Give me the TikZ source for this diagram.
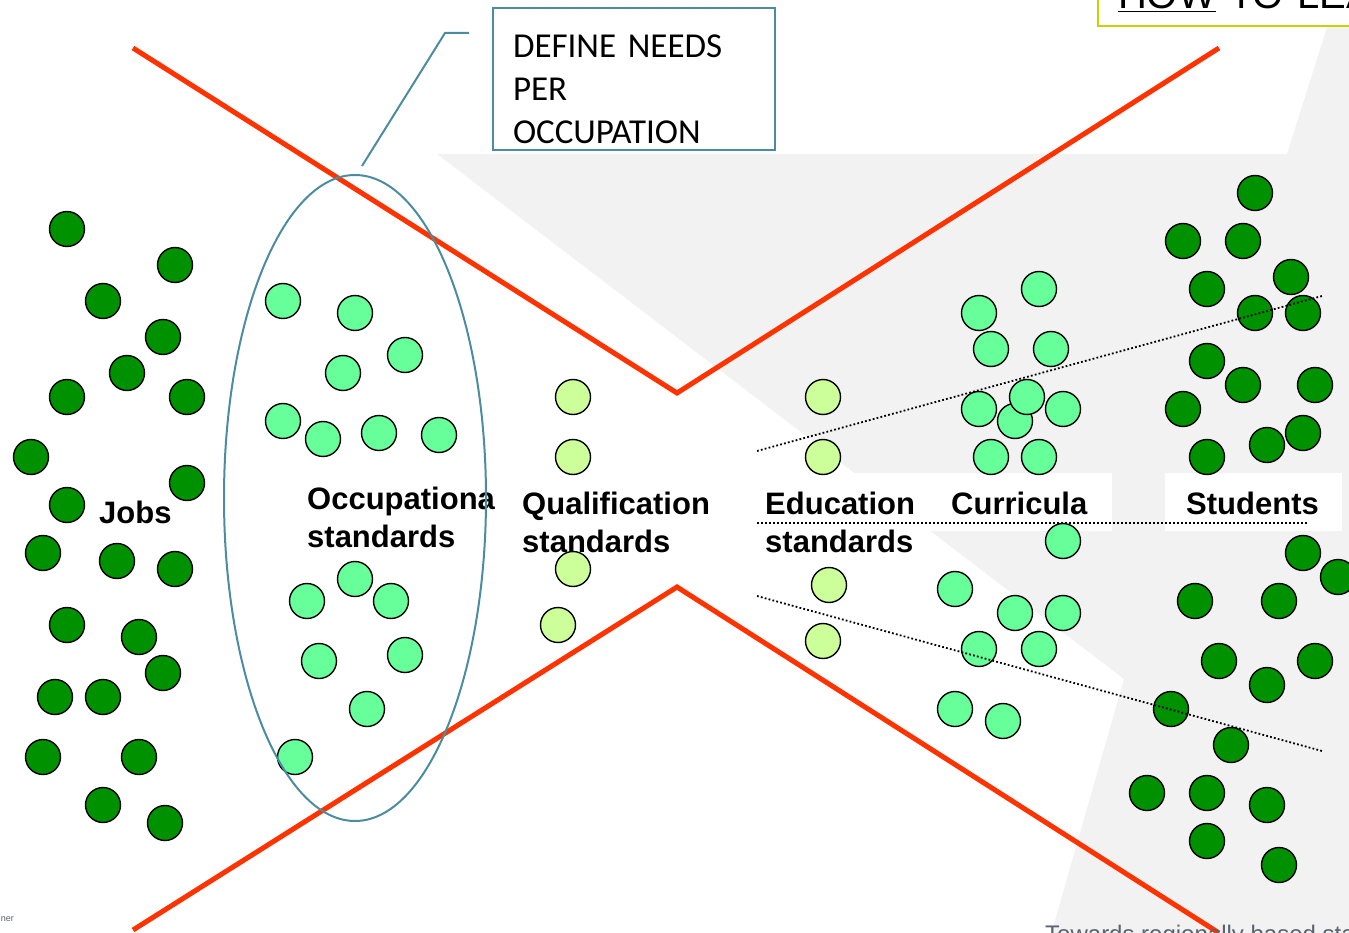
\documentclass[tikz,border=0pt]{standalone}
\usepackage{fontspec}
\setmainfont{Liberation Sans}
\newfontfamily\calfont{Carlito}
\usetikzlibrary{shapes.geometric}

\definecolor{jobgreen}{RGB}{0,145,0}
\definecolor{stdgreen}{RGB}{102,255,153}
\definecolor{qualgreen}{RGB}{204,255,153}
\definecolor{crossred}{RGB}{255,51,0}
\definecolor{calloutblue}{RGB}{75,140,160}
\definecolor{shadegray}{RGB}{242,242,242}
\definecolor{titlelime}{RGB}{200,210,0}
\definecolor{footgray}{RGB}{90,98,110}

\tikzset{
  blob/.style={circle, draw=black, line width=1.4pt, minimum size=35pt, inner sep=0pt},
  jobblob/.style={blob, fill=jobgreen},
  stdblob/.style={blob, fill=stdgreen},
  qualblob/.style={blob, fill=qualgreen},
  lbl/.style={anchor=base west, inner sep=0pt, align=left, font=\fontsize{31}{38}\selectfont\bfseries},
  crossline/.style={crossred, line width=5pt},
  guide/.style={line width=1.8pt, dash pattern=on 1.8pt off 2.2pt},
  callout/.style={calloutblue, line width=2pt},
  needbox/.style={draw=calloutblue, line width=2pt, fill=white, anchor=north west, inner xsep=20pt, inner ysep=0pt, text width=242pt, align=left, font=\calfont\fontsize{35}{43}\selectfont},
  howbox/.style={draw=titlelime, line width=2pt, fill=white, anchor=south west, inner xsep=20pt, inner ysep=17pt, text width=300pt, align=left, text depth=0pt, font=\fontsize{40}{48}\selectfont},
  smallprint/.style={inner sep=0pt, footgray}
}

\begin{document}
\begin{tikzpicture}[x=1pt,y=-1pt]
  \useasboundingbox (0,0) rectangle (1349,933);
  \clip (0,0) rectangle (1349,933);

  \fill[shadegray] (437,154) -- (1287,154) -- (1340,-14) -- (1360,-14) -- (1360,945) -- (1048,945) -- (1124,679) -- cycle;
  \fill[white] (757,473) rectangle (1112,531);
  \fill[white] (1165,473) rectangle (1342,531);

  \draw[crossline] (133,48) -- (677,393) -- (1219,48);
  \draw[crossline] (133,930) -- (677,587) -- (1219,933);

  \node[jobblob] (j1) at (67,229) {};
  \node[jobblob] (j2) at (175,265) {};
  \node[jobblob] (j3) at (103,301) {};
  \node[jobblob] (j4) at (163,337) {};
  \node[jobblob] (j5) at (127,373) {};
  \node[jobblob] (j6) at (67,397) {};
  \node[jobblob] (j7) at (187,397) {};
  \node[jobblob] (j8) at (31,457) {};
  \node[jobblob] (j9) at (187,483) {};
  \node[jobblob] (j10) at (67,505) {};
  \node[jobblob] (j11) at (43,553) {};
  \node[jobblob] (j12) at (117,561) {};
  \node[jobblob] (j13) at (175,569) {};
  \node[jobblob] (j14) at (67,625) {};
  \node[jobblob] (j15) at (139,637) {};
  \node[jobblob] (j16) at (163,673) {};
  \node[jobblob] (j17) at (55,697) {};
  \node[jobblob] (j18) at (103,697) {};
  \node[jobblob] (j19) at (43,757) {};
  \node[jobblob] (j20) at (139,757) {};
  \node[jobblob] (j21) at (103,805) {};
  \node[jobblob] (j22) at (165,823) {};

  \node[stdblob] (o1) at (283,301) {};
  \node[stdblob] (o2) at (355,313) {};
  \node[stdblob] (o3) at (405,355) {};
  \node[stdblob] (o4) at (343,373) {};
  \node[stdblob] (o5) at (283,421) {};
  \node[stdblob] (o6) at (323,439) {};
  \node[stdblob] (o7) at (379,433) {};
  \node[stdblob] (o8) at (439,435) {};
  \node[stdblob] (o9) at (355,579) {};
  \node[stdblob] (o10) at (307,601) {};
  \node[stdblob] (o11) at (391,601) {};
  \node[stdblob] (o12) at (319,661) {};
  \node[stdblob] (o13) at (405,655) {};
  \node[stdblob] (o14) at (367,709) {};
  \node[stdblob] (o15) at (295,757) {};

  \node[qualblob] (q1) at (573,397) {};
  \node[qualblob] (q2) at (573,457) {};
  \node[qualblob] (q3) at (573,569) {};
  \node[qualblob] (q4) at (558,625) {};

  \node[qualblob] (e1) at (823,397) {};
  \node[qualblob] (e2) at (823,457) {};
  \node[qualblob] (e3) at (829,585) {};
  \node[qualblob] (e4) at (823,641) {};

  \node[stdblob] (c1) at (1039,289) {};
  \node[stdblob] (c2) at (979,313) {};
  \node[stdblob] (c3) at (991,349) {};
  \node[stdblob] (c4) at (1051,349) {};
  \node[stdblob] (c5) at (979,409) {};
  \node[stdblob] (c6) at (1063,409) {};
  \node[stdblob] (c7) at (1015,421) {};
  \node[stdblob] (c8) at (1027,397) {};
  \node[stdblob] (c9) at (991,457) {};
  \node[stdblob] (c10) at (1039,457) {};
  \node[stdblob] (c11) at (1063,541) {};
  \node[stdblob] (c12) at (955,589) {};
  \node[stdblob] (c13) at (1015,613) {};
  \node[stdblob] (c14) at (1063,613) {};
  \node[stdblob] (c15) at (979,649) {};
  \node[stdblob] (c16) at (1039,649) {};
  \node[stdblob] (c17) at (955,709) {};
  \node[stdblob] (c18) at (1003,721) {};

  \node[jobblob] (s1) at (1255,193) {};
  \node[jobblob] (s2) at (1183,241) {};
  \node[jobblob] (s3) at (1243,241) {};
  \node[jobblob] (s4) at (1291,277) {};
  \node[jobblob] (s5) at (1207,289) {};
  \node[jobblob] (s6) at (1255,313) {};
  \node[jobblob] (s7) at (1303,313) {};
  \node[jobblob] (s8) at (1207,361) {};
  \node[jobblob] (s9) at (1243,385) {};
  \node[jobblob] (s10) at (1315,385) {};
  \node[jobblob] (s11) at (1183,409) {};
  \node[jobblob] (s12) at (1303,433) {};
  \node[jobblob] (s13) at (1267,445) {};
  \node[jobblob] (s14) at (1207,457) {};
  \node[jobblob] (s15) at (1303,553) {};
  \node[jobblob] (s16) at (1338,577) {};
  \node[jobblob] (s17) at (1195,601) {};
  \node[jobblob] (s18) at (1279,601) {};
  \node[jobblob] (s19) at (1219,661) {};
  \node[jobblob] (s20) at (1267,685) {};
  \node[jobblob] (s21) at (1315,661) {};
  \node[jobblob] (s22) at (1171,709) {};
  \node[jobblob] (s23) at (1231,745) {};
  \node[jobblob] (s24) at (1147,793) {};
  \node[jobblob] (s25) at (1207,793) {};
  \node[jobblob] (s26) at (1267,805) {};
  \node[jobblob] (s27) at (1207,841) {};
  \node[jobblob] (s28) at (1279,865) {};

  \node[lbl] (jobs) at (99,523) {Jobs};
  \node[lbl] (occlbl) at (307,547) {Occupationa\\standards};
  \node[lbl] (quallbl) at (522,552) {Qualification\\standards};
  \node[lbl] (edulbl) at (765,552) {Education\\standards};
  \node[lbl] (curlbl) at (951,514) {Curricula};
  \node[lbl] (stulbl) at (1186,514) {Students};

  \draw[guide] (757,451) -- (1322,296);
  \draw[guide] (757,523) -- (1307,523);
  \draw[guide] (757,596) -- (1322,751);

  \node[ellipse, draw=calloutblue, line width=2pt, minimum width=262pt, minimum height=646pt, inner sep=0pt] (occ) at (355,498) {};

  \coordinate (calloutfoot) at (362,166);
  \coordinate (calloutbend) at (445,33);
  \coordinate (callouttip) at (469,33);
  \draw[callout] (calloutfoot) -- (calloutbend) -- (callouttip);
  \node[needbox] (needs) at (492,7) {\rule{0pt}{50pt}DEFINE NEEDS\\PER\\OCCUPATION\rule[-6pt]{0pt}{0pt}};

  \node[howbox] (howto) at (1097,27) {\underline{HOW} TO LEA};

  \node[smallprint, anchor=base west, font=\fontsize{24}{28}\selectfont] (footer) at (1045,942) {Towards regionally based sta};
  \node[smallprint, anchor=base east, font=\fontsize{9}{11}\selectfont] (partner) at (14,921) {ner};
\end{tikzpicture}
\end{document}
